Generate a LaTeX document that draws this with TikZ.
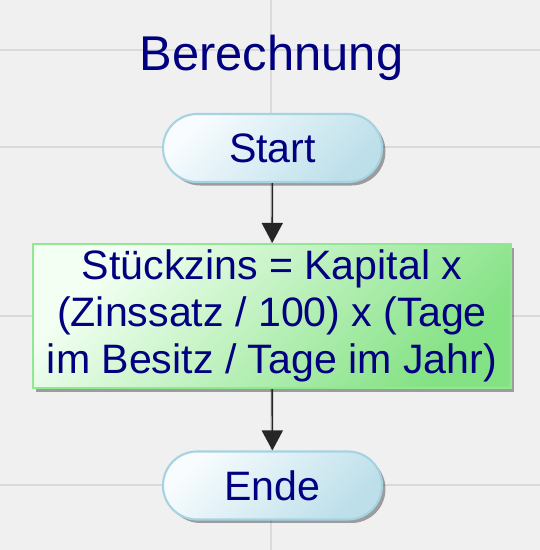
\documentclass[tikz,border=0pt]{standalone}
\usepackage{fontspec}
\setmainfont{Liberation Sans}
\usetikzlibrary{arrows.meta,shadows}

\definecolor{bgcol}{HTML}{F0F0F0}
\definecolor{gridcol}{HTML}{DADADA}
\definecolor{txtcol}{HTML}{000080}
\definecolor{termlight}{HTML}{F8FCFE}
\definecolor{termdark}{HTML}{BCDFEA}
\definecolor{termline}{HTML}{A6D3E2}
\definecolor{proclight}{HTML}{F4FFF4}
\definecolor{procdark}{HTML}{84E284}
\definecolor{procline}{HTML}{92E892}

\begin{document}
\begin{tikzpicture}[
	termnode/.style={draw=termline, line width=0.6pt, top color=termlight, bottom color=termdark, shading angle=45,
		rounded corners=0.34cm, minimum width=2.19cm, minimum height=0.68cm, inner sep=0pt,
		drop shadow={shadow xshift=0.35mm, shadow yshift=-0.35mm, fill=black, opacity=0.35},
		text=txtcol, font=\fontsize{11.7}{13.4}\selectfont},
	procnode/.style={draw=procline, line width=0.6pt, top color=proclight, bottom color=procdark, shading angle=45,
		minimum width=4.78cm, minimum height=1.44cm, inner sep=0pt, align=center,
		drop shadow={shadow xshift=0.35mm, shadow yshift=-0.35mm, fill=black, opacity=0.35},
		text=txtcol, font=\fontsize{11.7}{13.4}\selectfont},
	flowarrow/.style={draw=black!85, line width=0.45pt, -{Triangle[width=0.21cm, length=0.2cm]}}]

		\def \W {5.4}
		\def \H {5.5}

		\fill[bgcol] (0,0) rectangle (\W,\H);
		\useasboundingbox (0,0) rectangle (\W,\H);
		\foreach \gy in {0.65,2.34,4.03,5.0}{
			\draw[gridcol, line width=0.5pt] (0,\gy) -- (\W,\gy);
		}
		\draw[gridcol, line width=0.5pt] (2.71,0) -- (2.71,\H);

		\node[text=txtcol, font=\fontsize{13.9}{16}\selectfont, anchor=base] (title) at (2.715,4.8) {Berechnung};
		\node[termnode] (start) at (2.725,4.02) {Start};
		\node[procnode] (calc) at (2.72,2.34) {Stückzins = Kapital x\\(Zinssatz / 100) x (Tage\\im Besitz / Tage im Jahr)};
		\node[termnode] (ende) at (2.725,0.645) {Ende};

		\draw[flowarrow] (start) -- (calc);
		\draw[flowarrow] (calc) -- (ende);
%		\draw[flowarrow] (start.south) -- (calc.north);

	\end{tikzpicture}
\end{document}
